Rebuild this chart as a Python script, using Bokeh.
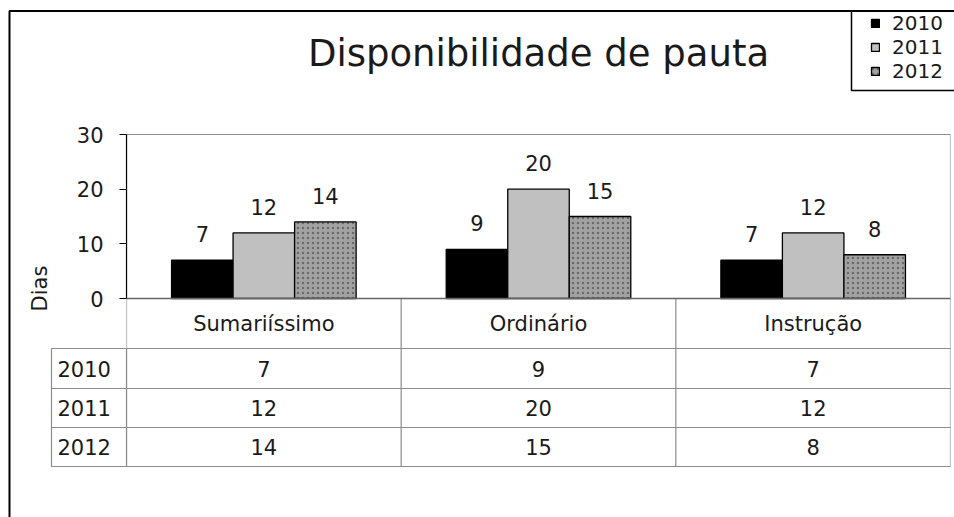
from math import pi
from bokeh.plotting import figure
from bokeh.models import (FactorRange, Range1d, ColumnDataSource, FixedTicker,
                          Legend, LegendItem)
from bokeh.transform import dodge
from bokeh.core.properties import value
from bokeh.embed import file_html
from bokeh.resources import INLINE

# ---- data ----
categories = ["Sumariíssimo", "Ordinário", "Instrução"]
years = ["2010", "2011", "2012"]
v2010 = [7, 9, 7]
v2011 = [12, 20, 12]
v2012 = [14, 15, 8]
y_ticks = [0, 10, 20, 30]
title_text = "Disponibilidade de pauta"
y_label = "Dias"

# ---- layout (page pixels) ----
W, H = 954, 517
FRAME_L, FRAME_R = 126, 950
FRAME_T, FRAME_B = 0, 517
Y0_PX, YTOP_PX = 298, 134
ymax = max(y_ticks)
ppu = (Y0_PX - YTOP_PX) / ymax
col_px = (FRAME_R - FRAME_L) / len(categories)


def dx(px):
    return (px - FRAME_L) / col_px


def dy(py):
    return (Y0_PX - py) / ppu


FONT = "DejaVu Sans"
TXT = "#1a1a1a"
GRID = "#8c8c8c"
FS = value("21px")

p = figure(width=W, height=H, title=None,
           x_range=FactorRange(*categories, range_padding=0),
           y_range=Range1d(dy(FRAME_B), dy(FRAME_T)),
           output_backend="svg", toolbar_location=None,
           x_axis_location=None, y_axis_location="left",
           min_border_left=FRAME_L, min_border_right=W - FRAME_R,
           min_border_top=0, min_border_bottom=0)
p.outline_line_color = None
p.grid.visible = False
p.background_fill_color = "white"
p.border_fill_color = "white"

ax = p.yaxis[0]
ax.ticker = FixedTicker(ticks=y_ticks)
ax.bounds = (0, ymax)
ax.minor_tick_line_color = None
ax.major_tick_out = 7
ax.major_tick_in = 0
ax.axis_line_color = "black"
ax.axis_line_width = 1.2
ax.major_tick_line_color = "black"
ax.major_label_text_font = FONT
ax.major_label_text_font_size = "21px"
ax.major_label_text_color = TXT
ax.major_label_standoff = 16

# plot area box
p.quad(left=[0], right=[len(categories)], bottom=[0], top=[ymax],
       fill_color=None, line_color=GRID, line_width=1.2)

src = ColumnDataSource(dict(
    cat=categories, v2010=v2010, v2011=v2011, v2012=v2012,
    t2010=[str(v) for v in v2010], t2011=[str(v) for v in v2011],
    t2012=[str(v) for v in v2012]))

bw = 0.224
offs = [-bw, 0, bw]
styles = [dict(fill_color="black"),
          dict(fill_color="#c0c0c0"),
          dict(fill_color="#a2a2a2", hatch_pattern="dot", hatch_color="#6a6a6a",
               hatch_scale=5, hatch_weight=2)]
rends = []
for yr, off, st in zip(years, offs, styles):
    r = p.vbar(x=dodge("cat", off, range=p.x_range), top="v" + yr, width=bw,
               source=src, line_color="black", line_width=1.3, **st)
    rends.append(r)
    p.text(x=dodge("cat", off, range=p.x_range), y="v" + yr, text="t" + yr,
           source=src, y_offset=-26, text_align="center", text_baseline="middle",
           text_font=value(FONT), text_font_size=FS, text_color=TXT)

# ---- data table ----
row_lines = [348, 388, 427, 466]
row_centers = [368, 407.5, 446.5]
ncat = len(categories)
bottom = dy(row_lines[-1])
p.segment(x0=[0] * 4, x1=[ncat] * 4, y0=[dy(r) for r in row_lines],
          y1=[dy(r) for r in row_lines], line_color=GRID, line_width=1.2)
p.segment(x0=list(range(ncat + 1)), x1=list(range(ncat + 1)), y0=[0] * (ncat + 1),
          y1=[bottom] * (ncat + 1), line_color=GRID, line_width=1.2)
p.segment(x0=[0], x1=[ncat], y0=[0], y1=[0], line_color="#666666", line_width=1.4)

# year column cells (left of the axis)
p.quad(left=[dx(51)] * 3, right=[0] * 3,
       top=[dy(r) for r in row_lines[:-1]], bottom=[dy(r) for r in row_lines[1:]],
       fill_color=None, line_color=GRID, line_width=1.2, level="overlay")

# header + values
p.text(x="cat", y=dy(323), text="cat", source=src, text_align="center",
       text_baseline="middle", text_font=value(FONT), text_font_size=FS,
       text_color=TXT)
for yr, rc in zip(years, row_centers):
    p.text(x="cat", y=dy(rc), text="t" + yr, source=src, text_align="center",
           text_baseline="middle", text_font=value(FONT), text_font_size=FS,
           text_color=TXT)

ysrc = ColumnDataSource(dict(year=years, x=[dx(57)] * 3, y=[dy(c) for c in row_centers]))
p.text(x="x", y="y", text="year", source=ysrc, text_align="left",
       text_baseline="middle", text_font=value(FONT), text_font_size=FS,
       text_color=TXT, level="overlay")

# y label
p.text(x=[dx(39)], y=[dy(288)], text=[y_label], angle=pi / 2,
       text_align="center", text_baseline="middle", text_font=value(FONT),
       text_font_size=FS, text_color=TXT, level="overlay")

# title
p.text(x=[ncat / 2], y=[dy(53)], text=[title_text], text_align="center",
       text_baseline="middle", text_font=value(FONT), text_font_size=value("37px"),
       text_color=TXT)

# outer chart border and legend box
p.quad(left=[dx(9)], right=[dx(1400)], top=[dy(10.5)], bottom=[dy(1400)],
       fill_color=None, line_color="black", line_width=2, level="overlay")
p.quad(left=[dx(851)], right=[dx(1400)], top=[dy(10.5)], bottom=[dy(90)],
       fill_color=None, line_color="black", line_width=1.5, level="overlay")

legend = Legend(items=[LegendItem(label=yr, renderers=[r]) for yr, r in zip(years, rends)],
                location=(744, 434), border_line_color=None, background_fill_alpha=0,
                glyph_width=10, glyph_height=10, label_standoff=12, padding=5,
                spacing=0, margin=0, label_text_font=FONT, label_text_font_size="20px",
                label_text_color=TXT, label_height=20)
p.add_layout(legend)

open("out.html", "w").write(file_html(p, INLINE))
